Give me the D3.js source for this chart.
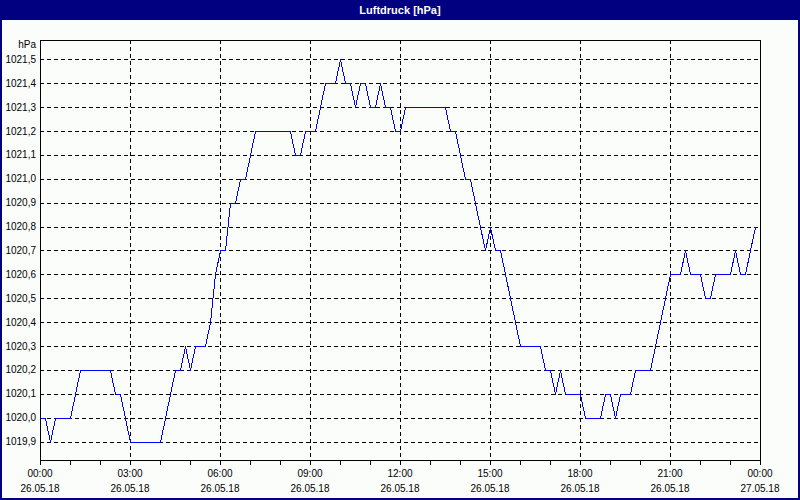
<!DOCTYPE html>
<html>
<head>
<meta charset="utf-8">
<script src="https://cdn.jsdelivr.net/npm/d3@7"></script>
<style>
  body { margin: 0; padding: 0; background: #fff; }
  svg { display: block; }
  text { font-family: "Liberation Sans", Arial, sans-serif; }
</style>
</head>
<body>
<svg id="chart" width="800" height="500"></svg>
<script>
// ---- data ----
const title = "Luftdruck [hPa]";
const unitLabel = "hPa";
const startTime = "2018-05-26T00:00:00";
const endTime = "2018-05-27T00:00:00";
const stepMinutes = 10;
// pressure readings every 10 minutes from 00:00 to 23:50
const pressure = [
  1020.0, 1020.0, 1019.9, 1020.0, 1020.0, 1020.0, 1020.0, 1020.1, 1020.2, 1020.2,
  1020.2, 1020.2, 1020.2, 1020.2, 1020.2, 1020.1, 1020.1, 1020.0, 1019.9, 1019.9,
  1019.9, 1019.9, 1019.9, 1019.9, 1019.9, 1020.0, 1020.1, 1020.2, 1020.2, 1020.3,
  1020.2, 1020.3, 1020.3, 1020.3, 1020.4, 1020.6, 1020.7, 1020.7, 1020.9, 1020.9,
  1021.0, 1021.0, 1021.1, 1021.2, 1021.2, 1021.2, 1021.2, 1021.2, 1021.2, 1021.2,
  1021.2, 1021.1, 1021.1, 1021.2, 1021.2, 1021.2, 1021.3, 1021.4, 1021.4, 1021.4,
  1021.5, 1021.4, 1021.4, 1021.3, 1021.4, 1021.4, 1021.3, 1021.3, 1021.4, 1021.3,
  1021.3, 1021.2, 1021.2, 1021.3, 1021.3, 1021.3, 1021.3, 1021.3, 1021.3, 1021.3,
  1021.3, 1021.3, 1021.2, 1021.2, 1021.1, 1021.0, 1021.0, 1020.9, 1020.8, 1020.7,
  1020.8, 1020.7, 1020.7, 1020.6, 1020.5, 1020.4, 1020.3, 1020.3, 1020.3, 1020.3,
  1020.3, 1020.2, 1020.2, 1020.1, 1020.2, 1020.1, 1020.1, 1020.1, 1020.1, 1020.0,
  1020.0, 1020.0, 1020.0, 1020.1, 1020.1, 1020.0, 1020.1, 1020.1, 1020.1, 1020.2,
  1020.2, 1020.2, 1020.2, 1020.3, 1020.4, 1020.5, 1020.6, 1020.6, 1020.6, 1020.7,
  1020.6, 1020.6, 1020.6, 1020.5, 1020.5, 1020.6, 1020.6, 1020.6, 1020.6, 1020.7,
  1020.6, 1020.6, 1020.7, 1020.8
];
const yTicks = [1019.9, 1020.0, 1020.1, 1020.2, 1020.3, 1020.4, 1020.5, 1020.6, 1020.7, 1020.8, 1020.9, 1021.0, 1021.1, 1021.2, 1021.3, 1021.4, 1021.5];
const yDomain = [1019.823, 1021.581];

// ---- layout ----
const W = 800, H = 500;
const plot = { left: 40, right: 760, top: 40, bottom: 460 };
const navy = "#000080";

const svg = d3.select("#chart");

// window frame
svg.append("rect").attr("x", 0).attr("y", 0).attr("width", W).attr("height", H).attr("fill", navy);
svg.append("rect").attr("x", 2).attr("y", 20).attr("width", W - 4).attr("height", H - 22).attr("fill", "#fbfdfb");
svg.append("text").attr("x", W / 2).attr("y", 14)
  .attr("text-anchor", "middle").attr("fill", "#fff")
  .attr("font-size", "11px").attr("font-weight", "bold")
  .text(title);

const parse = d3.isoParse;
const t0 = parse(startTime), t1 = parse(endTime);
const data = pressure.map((v, i) => ({ t: new Date(t0.getTime() + i * stepMinutes * 60000), v }));

const x = d3.scaleTime().domain([t0, t1]).range([plot.left, plot.right]);
const y = d3.scaleLinear().domain(yDomain).range([plot.bottom, plot.top]);
const px = v => Math.round(v) + 0.5;

// grid
const majorTicks = d3.timeHour.every(3).range(t0, d3.timeMinute.offset(t1, 1));
const hourTicks = d3.timeHour.every(1).range(t0, d3.timeMinute.offset(t1, 1));

const grid = svg.append("g").attr("stroke", "#000").attr("stroke-width", 1)
  .attr("stroke-dasharray", "4,3").attr("shape-rendering", "crispEdges");
yTicks.forEach(v => {
  const yy = px(y(v));
  grid.append("line").attr("x1", plot.left).attr("x2", plot.right).attr("y1", yy).attr("y2", yy);
});
majorTicks.slice(1, -1).forEach(t => {
  const xx = px(x(t));
  grid.append("line").attr("x1", xx).attr("x2", xx).attr("y1", plot.top).attr("y2", plot.bottom);
});

// plot frame
svg.append("rect").attr("x", plot.left + 0.5).attr("y", plot.top + 0.5)
  .attr("width", plot.right - plot.left).attr("height", plot.bottom - plot.top)
  .attr("fill", "none").attr("stroke", "#000").attr("shape-rendering", "crispEdges");

// x axis ticks (hourly)
const xAxis = d3.axisBottom(x).tickValues(hourTicks).tickSize(4).tickFormat("");
const gx = svg.append("g").attr("transform", `translate(0,${plot.bottom + 0.5})`).call(xAxis);
gx.select(".domain").remove();
gx.selectAll("line").attr("stroke", "#000").attr("shape-rendering", "crispEdges");

// x labels
const fmtTime = d3.timeFormat("%H:%M");
const fmtDate = d3.timeFormat("%d.%m.%y");
const xl = svg.append("g").attr("font-size", "10px").attr("fill", "#000").attr("text-anchor", "middle");
majorTicks.forEach(t => {
  xl.append("text").attr("x", x(t)).attr("y", 477).text(fmtTime(t));
  xl.append("text").attr("x", x(t)).attr("y", 492).text(fmtDate(t));
});

// y labels
const yl = svg.append("g").attr("font-size", "10px").attr("fill", "#000").attr("text-anchor", "end");
yTicks.forEach(v => {
  yl.append("text").attr("x", 36).attr("y", y(v)).attr("dy", "0.35em")
    .text(d3.format(".1f")(v).replace(".", ","));
});
yl.append("text").attr("x", 36).attr("y", 44).attr("dy", "0.35em").text(unitLabel);

// line
const line = d3.line().x(d => px(x(d.t))).y(d => px(y(d.v)));
svg.append("path").datum(data).attr("d", line)
  .attr("fill", "none").attr("stroke", "#0000ff").attr("stroke-width", 1)
  .attr("shape-rendering", "crispEdges");
</script>
</body>
</html>
